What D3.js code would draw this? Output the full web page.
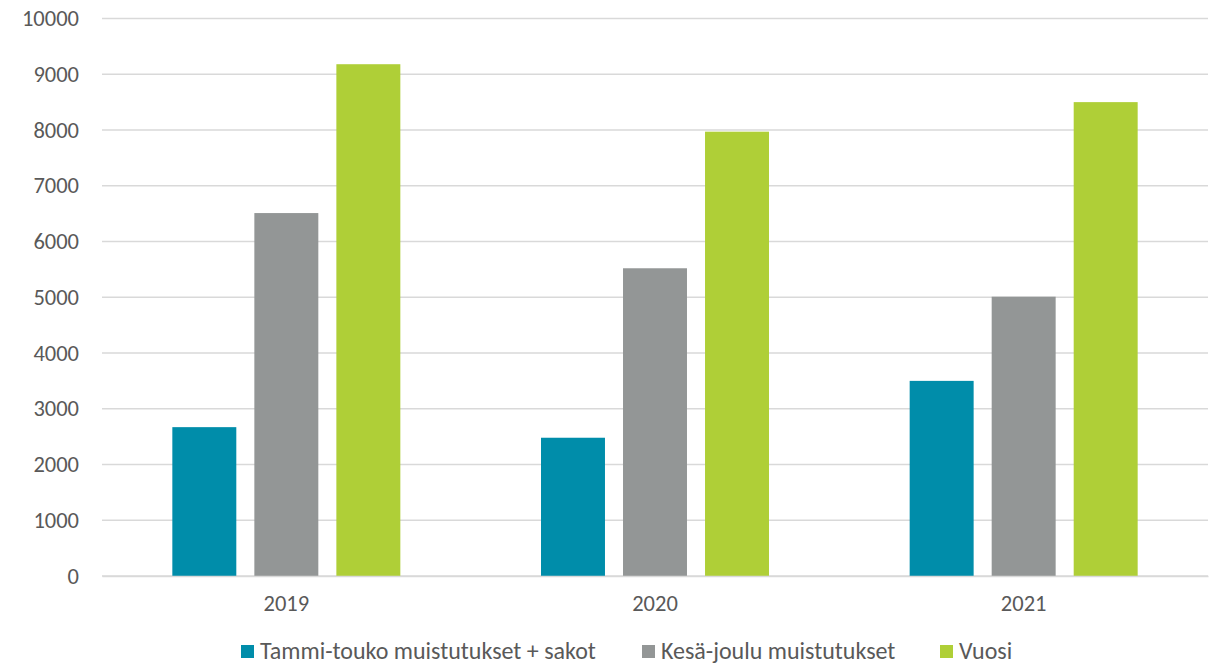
<!DOCTYPE html>
<html>
<head>
<meta charset="utf-8">
<script src="https://d3js.org/d3.v7.min.js"></script>
<style>
  body { margin: 0; background: #fff; }
  text { font-family: Carlito, Calibri, Lato, sans-serif; fill: #595959; }
</style>
</head>
<body>
<svg></svg>
<script>
// values
var years = ["2019", "2020", "2021"];
var seriesNames = ["Tammi-touko muistutukset + sakot", "Kesä-joulu muistutukset", "Vuosi"];
var tammiTouko = [2670, 2480, 3500];
var kesaJoulu = [6510, 5520, 5010];
var vuosi = [9180, 7970, 8500];
var yTicks = [0, 1000, 2000, 3000, 4000, 5000, 6000, 7000, 8000, 9000, 10000];
var colors = ["#008DAA", "#939696", "#AFCF37"];

var width = 1219, height = 664;
var margin = { left: 102, right: 11, top: 18.5, bottom: 88 };

var svg = d3.select("svg")
    .attr("width", width)
    .attr("height", height);

var seriesVals = [tammiTouko, kesaJoulu, vuosi];
var data = years.map(function(y, i) {
    return { year: y, vals: seriesVals.map(function(s) { return s[i]; }) };
});

var x = d3.scaleBand()
    .domain(years)
    .range([margin.left, width - margin.right]);

var inner = d3.scaleBand()
    .domain(d3.range(3))
    .range([0, 228])
    .paddingInner(0.22);

var y = d3.scaleLinear()
    .domain([0, 10000])
    .range([height - margin.bottom, margin.top]);

// gridlines
svg.append("g")
    .selectAll("line")
    .data(yTicks)
    .join("line")
    .attr("x1", margin.left)
    .attr("x2", width - margin.right)
    .attr("y1", function(d) { return y(d); })
    .attr("y2", function(d) { return y(d); })
    .attr("stroke", "#d9d9d9")
    .attr("stroke-width", 1.5);

// y axis labels
var yAxis = svg.append("g")
    .attr("transform", "translate(" + (margin.left - 23) + ",0)")
    .call(d3.axisLeft(y).tickValues(yTicks).tickSize(0).tickPadding(0).tickFormat(d3.format("d")));
yAxis.select(".domain").remove();
yAxis.selectAll("text").style("font-size", "22.5px").attr("fill", "#595959");

// bars
var groups = svg.append("g")
    .selectAll("g")
    .data(data)
    .join("g")
    .attr("transform", function(d) { return "translate(" + (x(d.year) + x.bandwidth() / 2 - 114) + ",0)"; });

groups.selectAll("rect")
    .data(function(d) { return d.vals; })
    .join("rect")
    .attr("x", function(d, i) { return inner(i); })
    .attr("width", inner.bandwidth())
    .attr("y", function(d) { return y(d); })
    .attr("height", function(d) { return y(0) - y(d); })
    .attr("fill", function(d, i) { return colors[i]; });

// x axis
var xAxis = svg.append("g")
    .attr("transform", "translate(0," + (height - margin.bottom) + ")")
    .call(d3.axisBottom(x).tickSize(0).tickPadding(19));
xAxis.select(".domain").attr("stroke", "#d9d9d9").attr("stroke-width", 1.5);
xAxis.selectAll("text").style("font-size", "22.5px").attr("fill", "#595959");

// legend
var legendX = [241, 642, 940];
var legend = svg.append("g")
    .selectAll("g")
    .data(seriesNames)
    .join("g")
    .attr("transform", function(d, i) { return "translate(" + legendX[i] + ",651)"; });

legend.append("rect")
    .attr("x", 0)
    .attr("y", -6)
    .attr("width", 13)
    .attr("height", 13)
    .attr("fill", function(d, i) { return colors[i]; });

legend.append("text")
    .attr("x", 19)
    .attr("dy", "0.35em")
    .style("font-size", "24px")
    .text(function(d) { return d; });
</script>
</body>
</html>
